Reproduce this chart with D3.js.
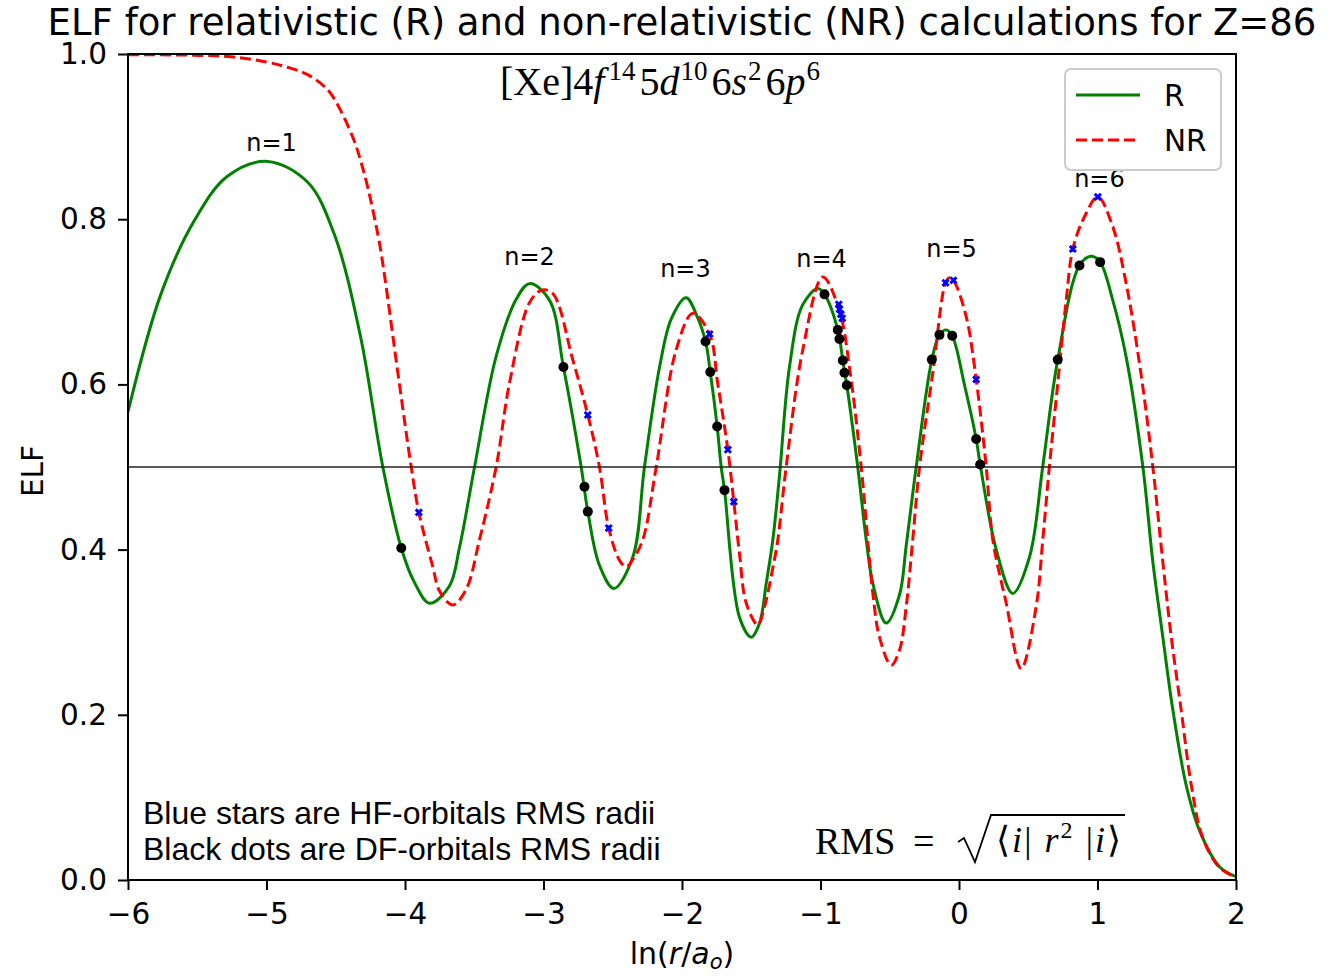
<!DOCTYPE html>
<html>
<head>
<meta charset="utf-8">
<script src="https://cdn.jsdelivr.net/npm/d3@7"></script>
<style>
body { margin: 0; background: #fff; }
svg text { font-family: "DejaVu Sans", sans-serif; fill: #000; }
</style>
</head>
<body>
<div id="chart"></div>
<script>
// Số liệu (x = ln(r/a0), y = ELF)
const rX = [-6.0, -5.763, -5.522, -5.282, -4.993, -4.704, -4.511, -4.320, -4.160, -4.027,
    -3.931, -3.823, -3.679, -3.606, -3.498, -3.342, -3.197, -3.101, -2.957, -2.856,
    -2.728, -2.680, -2.596, -2.492, -2.355, -2.271, -2.162, -2.076, -1.970, -1.895,
    -1.830, -1.796, -1.746, -1.717, -1.693, -1.585, -1.500, -1.440, -1.392, -1.344,
    -1.296, -1.224, -1.130, -1.019, -0.971, -0.875, -0.839, -0.810, -0.731, -0.670,
    -0.622, -0.526, -0.430, -0.381, -0.309, -0.196, -0.141, -0.092, -0.049, 0.040,
    0.124, 0.153, 0.269, 0.388, 0.509, 0.605, 0.713, 0.870, 0.955, 1.019,
    1.110, 1.207, 1.327, 1.399, 1.471, 1.544, 1.640, 1.736, 1.881, 2.0];
const rY = [0.567, 0.709, 0.798, 0.852, 0.870, 0.845, 0.782, 0.657, 0.500, 0.402,
    0.360, 0.335, 0.356, 0.403, 0.500, 0.634, 0.703, 0.722, 0.702, 0.621,
    0.500, 0.446, 0.381, 0.353, 0.391, 0.500, 0.621, 0.680, 0.705, 0.684,
    0.652, 0.615, 0.549, 0.500, 0.472, 0.318, 0.294, 0.311, 0.359, 0.412,
    0.490, 0.621, 0.696, 0.716, 0.709, 0.666, 0.629, 0.599, 0.500, 0.412,
    0.359, 0.311, 0.345, 0.405, 0.500, 0.630, 0.660, 0.666, 0.659, 0.599,
    0.534, 0.503, 0.400, 0.347, 0.391, 0.501, 0.630, 0.744, 0.755, 0.748,
    0.702, 0.633, 0.501, 0.386, 0.295, 0.206, 0.115, 0.060, 0.016, 0.004];

const nrX = [-6.0, -5.282, -4.993, -4.850, -4.704, -4.560, -4.466, -4.367, -4.319, -4.271, -4.222,
    -4.175, -4.040, -3.955, -3.900, -3.799, -3.751, -3.655, -3.558, -3.462, -3.342,
    -3.245, -3.101, -3.014, -2.933, -2.789, -2.680, -2.596, -2.529, -2.451, -2.403,
    -2.355, -2.283, -2.186, -2.042, -1.922, -1.801, -1.742, -1.669, -1.626, -1.585,
    -1.536, -1.453, -1.404, -1.344, -1.308, -1.248, -1.128, -0.983, -0.863, -0.791,
    -0.706, -0.622, -0.574, -0.490, -0.430, -0.381, -0.334, -0.285, -0.189, -0.097,
    -0.069, -0.040, 0.052, 0.124, 0.196, 0.244, 0.341, 0.449, 0.557, 0.605,
    0.653, 0.713, 0.774, 0.822, 0.906, 1.002, 1.110, 1.207, 1.307, 1.399,
    1.471, 1.532, 1.604, 1.677, 1.758, 1.881, 2.0];
const nrY = [0.999, 0.997, 0.990, 0.984, 0.975, 0.957, 0.932, 0.895, 0.870, 0.840, 0.803,
    0.762, 0.600, 0.500, 0.445, 0.379, 0.350, 0.333, 0.352, 0.412, 0.500,
    0.602, 0.699, 0.714, 0.710, 0.630, 0.563, 0.500, 0.426, 0.387, 0.379,
    0.388, 0.412, 0.500, 0.642, 0.686, 0.661, 0.601, 0.521, 0.458, 0.395,
    0.335, 0.309, 0.331, 0.378, 0.412, 0.500, 0.642, 0.730, 0.689, 0.621,
    0.500, 0.347, 0.294, 0.260, 0.278, 0.331, 0.412, 0.500, 0.614, 0.723,
    0.729, 0.726, 0.682, 0.606, 0.501, 0.412, 0.335, 0.256, 0.331, 0.412,
    0.501, 0.601, 0.702, 0.764, 0.803, 0.827, 0.791, 0.722, 0.621, 0.501,
    0.386, 0.295, 0.206, 0.115, 0.052, 0.015, 0.003];

// Sao xanh: bán kính RMS của orbital HF
const hfX = [-3.900, -2.680, -2.529, -1.801, -1.669, -1.626, -0.868, -0.863, -0.853, -0.843, -0.097, -0.040, 0.124, 0.822, 1.002];
const hfY = [0.445, 0.563, 0.426, 0.661, 0.521, 0.458, 0.697, 0.691, 0.685, 0.680, 0.723, 0.726, 0.606, 0.764, 0.827];

// Chấm đen: bán kính RMS của orbital DF
const dfX = [-4.027, -2.856, -2.704, -2.680, -1.830, -1.796, -1.746, -1.693, -0.971, -0.875, -0.863, -0.839, -0.827, -0.810, -0.196, -0.141, -0.049, 0.124, 0.153, 0.713, 0.870, 1.019];
const dfY = [0.402, 0.621, 0.476, 0.446, 0.652, 0.615, 0.549, 0.472, 0.709, 0.666, 0.655, 0.629, 0.614, 0.599, 0.630, 0.660, 0.659, 0.534, 0.503, 0.630, 0.744, 0.748];

// Nhãn lớp vỏ n=1..6 (toạ độ dữ liệu)
const shellLabels = ["n=1", "n=2", "n=3", "n=4", "n=5", "n=6"];
const shellX = [-4.964, -3.101, -1.975, -0.993, -0.054, 1.014];
const shellY = [0.882, 0.744, 0.730, 0.742, 0.754, 0.839];

const xTicks = [-6, -5, -4, -3, -2, -1, 0, 1, 2];
const yTicks = [0.0, 0.2, 0.4, 0.6, 0.8, 1.0];

const W = 1328, H = 976;
const margin = { top: 54, right: 92, bottom: 96, left: 128 };
const width = W - margin.left - margin.right;
const height = H - margin.top - margin.bottom;

const svgRoot = d3.select("#chart").append("svg")
    .attr("width", W).attr("height", H);

const svg = svgRoot.append("g")
    .attr("transform", `translate(${margin.left},${margin.top})`);

const x = d3.scaleLinear().domain([-6, 2]).range([0, width]);
const y = d3.scaleLinear().domain([0, 1]).range([height, 0]);

svg.append("clipPath").attr("id", "clip")
    .append("rect").attr("y", -2).attr("width", width).attr("height", height + 2);

const plot = svg.append("g").attr("clip-path", "url(#clip)");

// Catmull-Rom cho đường cong mượt đi qua các điểm đọc được
const line = d3.line()
    .x(d => x(d[0]))
    .y(d => y(d[1]))
    .curve(d3.curveCatmullRom.alpha(0.5));

// Đường R (xanh lá, liền)
plot.append("path")
    .datum(rX.map((v, i) => [v, rY[i]]))
    .attr("fill", "none")
    .attr("stroke", "green")
    .attr("stroke-width", 3)
    .attr("d", line);

// Đường NR (đỏ, nét đứt)
plot.append("path")
    .datum(nrX.map((v, i) => [v, nrY[i]]))
    .attr("fill", "none")
    .attr("stroke", "red")
    .attr("stroke-width", 3)
    .attr("stroke-dasharray", "11,5")
    .attr("d", line);

// Đường ngang ELF = 0.5
plot.append("line")
    .attr("x1", x(-6)).attr("x2", x(2))
    .attr("y1", y(0.5)).attr("y2", y(0.5))
    .attr("stroke", "#222")
    .attr("stroke-width", 1.3);

// Sao xanh HF
const star = d3.symbol().type(d3.symbolCross).size(42);
plot.selectAll(".hf")
    .data(hfX.map((v, i) => [v, hfY[i]]))
    .enter().append("path")
    .attr("class", "hf")
    .attr("d", star)
    .attr("fill", "blue")
    .attr("transform", d => `translate(${x(d[0])},${y(d[1])}) rotate(45)`);

// Chấm đen DF
plot.selectAll(".df")
    .data(dfX.map((v, i) => [v, dfY[i]]))
    .enter().append("circle")
    .attr("class", "df")
    .attr("cx", d => x(d[0]))
    .attr("cy", d => y(d[1]))
    .attr("r", 5)
    .attr("fill", "black");

// Trục
const xAxis = d3.axisBottom(x).tickValues(xTicks).tickSize(10).tickPadding(13)
    .tickFormat(d => d < 0 ? "\u2212" + Math.abs(d) : String(d));
const yAxis = d3.axisLeft(y).tickValues(yTicks).tickSize(10).tickPadding(11)
    .tickFormat(d3.format(".1f"));

const gx = svg.append("g").attr("transform", `translate(0,${height})`).call(xAxis);
const gy = svg.append("g").call(yAxis);
[gx, gy].forEach(g => {
    g.select(".domain").remove();
    g.selectAll(".tick line").attr("stroke", "#000").attr("stroke-width", 2);
    g.selectAll(".tick text").style("font-size", "29.5px").attr("fill", "#000");
});

// Khung (4 cạnh)
svg.append("rect")
    .attr("width", width).attr("height", height)
    .attr("fill", "none").attr("stroke", "#000").attr("stroke-width", 2);

// Nhãn n=
svg.selectAll(".shell")
    .data(shellLabels)
    .enter().append("text")
    .attr("class", "shell")
    .attr("x", (d, i) => x(shellX[i]))
    .attr("y", (d, i) => y(shellY[i]))
    .attr("text-anchor", "middle")
    .style("font-size", "24px")
    .text(d => d);

// Tiêu đề
svgRoot.append("text")
    .attr("x", margin.left + width / 2).attr("y", 35)
    .attr("text-anchor", "middle")
    .style("font-size", "37px")
    .text("ELF for relativistic (R) and non-relativistic (NR) calculations for Z=86");

// Nhãn trục Y
svgRoot.append("text")
    .attr("transform", "translate(43,471) rotate(-90)")
    .attr("text-anchor", "middle")
    .style("font-size", "29.5px")
    .text("ELF");

// Nhãn trục X: ln(r/a_o)
const xl = svgRoot.append("text")
    .attr("x", margin.left + width / 2).attr("y", 964)
    .attr("text-anchor", "middle")
    .style("font-size", "30px");
xl.append("tspan").text("ln(");
xl.append("tspan").style("font-style", "italic").text("r");
xl.append("tspan").text("/");
xl.append("tspan").style("font-style", "italic").text("a");
xl.append("tspan").style("font-style", "italic").style("font-size", "21px").attr("dy", 5).text("o");
xl.append("tspan").attr("dy", -5).text(")");

// Chú thích
const lg = svgRoot.append("g");
lg.append("rect")
    .attr("x", 1065).attr("y", 69).attr("width", 156).attr("height", 101).attr("rx", 6)
    .attr("fill", "white").attr("fill-opacity", 0.8)
    .attr("stroke", "#cccccc").attr("stroke-width", 2);
lg.append("line").attr("x1", 1076).attr("x2", 1140).attr("y1", 95).attr("y2", 95)
    .attr("stroke", "green").attr("stroke-width", 3);
lg.append("line").attr("x1", 1076).attr("x2", 1140).attr("y1", 140).attr("y2", 140)
    .attr("stroke", "red").attr("stroke-width", 3).attr("stroke-dasharray", "11,5");
lg.append("text").attr("x", 1164).attr("y", 106).style("font-size", "29.5px").text("R");
lg.append("text").attr("x", 1164).attr("y", 151).style("font-size", "29.5px").text("NR");

// Cấu hình electron [Xe]4f14 5d10 6s2 6p6
const cfg = svgRoot.append("text")
    .attr("x", 500).attr("y", 95)
    .style("font-family", "'Liberation Serif', serif")
    .style("font-size", "40px");
const sup = (t, dx) => cfg.append("tspan").attr("dy", -15).attr("dx", dx).style("font-size", "27px").text(t);
const base = (t) => cfg.append("tspan").attr("dy", 15).attr("dx", 4).text(t);
const ital = (t) => cfg.append("tspan").style("font-style", "italic").text(t);
cfg.append("tspan").text("[Xe]4");
ital("f"); sup("14", 4);
base("5"); ital("d"); sup("10", 1);
base("6"); ital("s"); sup("2", 1);
base("6"); ital("p"); sup("6", 1);

// Ghi chú bên dưới
svgRoot.append("text").attr("x", 143).attr("y", 824).style("font-size", "32px")
    .style("font-family", "'Liberation Sans', Arial, sans-serif")
    .text("Blue stars are HF-orbitals RMS radii");
svgRoot.append("text").attr("x", 143).attr("y", 860).style("font-size", "32px")
    .style("font-family", "'Liberation Sans', Arial, sans-serif")
    .text("Black dots are DF-orbitals RMS radii");

// Công thức RMS
svgRoot.append("text")
    .attr("x", 815).attr("y", 854)
    .style("font-family", "'Liberation Serif', serif")
    .style("font-size", "38px")
    .text("RMS");
svgRoot.append("text")
    .attr("x", 913).attr("y", 854)
    .style("font-family", "'Liberation Serif', serif")
    .style("font-size", "38px")
    .text("=");
svgRoot.append("path")
    .attr("d", "M958,842 L964,838 L975,862 L991,815 L1125,815")
    .attr("fill", "none").attr("stroke", "#000").attr("stroke-width", 1.8);
const rad = svgRoot.append("text")
    .attr("x", 996).attr("y", 852)
    .attr("textLength", 125).attr("lengthAdjust", "spacing")
    .style("font-family", "'Liberation Serif', serif")
    .style("font-size", "36px");
rad.append("tspan").text("\u27E8");
rad.append("tspan").style("font-style", "italic").text("i");
rad.append("tspan").text("| ");
rad.append("tspan").style("font-style", "italic").text("r");
rad.append("tspan").attr("dy", -14).style("font-size", "24px").text("2");
rad.append("tspan").attr("dy", 14).text(" |");
rad.append("tspan").style("font-style", "italic").text("i");
rad.append("tspan").text("\u27E9");
</script>
</body>
</html>
